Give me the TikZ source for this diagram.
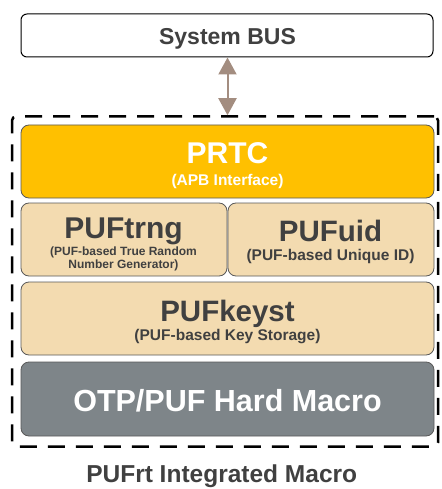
\documentclass[tikz,border=0pt]{standalone}
\usepackage{fontspec}
\setmainfont{Liberation Sans}
\usetikzlibrary{arrows.meta}

\definecolor{prtcfill}{HTML}{FFC000}
\definecolor{puffill}{HTML}{F3DBB0}
\definecolor{otpfill}{HTML}{7E8589}
\definecolor{txtgray}{HTML}{404040}
\definecolor{busarrow}{HTML}{A38D80}

\newcommand{\fs}[1]{\fontsize{#1}{#1}\selectfont}

\begin{document}
\begin{tikzpicture}[x=1pt, y=-1pt,
  block/.style={draw=black!65, line width=0.8pt, rounded corners=8pt,
                inner sep=0pt, minimum height=73pt},
  wideblock/.style={block, minimum width=413pt},
  halfblock/.style={block, minimum width=206pt},
  title/.style={anchor=base, inner sep=0pt, text=txtgray,
                font=\bfseries\fs{30}},
  subtitle/.style={anchor=base, inner sep=0pt, text=txtgray,
                   font=\bfseries\fs{15.5}},
  smalltitle/.style={anchor=base, inner sep=0pt, text=txtgray,
                     font=\bfseries\fs{12}}]

\useasboundingbox (0, 0) rectangle (441, 489);

% draw the bus on top
\node[draw=black, line width=1pt, rounded corners=6pt, minimum width=412pt,
      minimum height=43pt, fill=white] (bus) at (227, 35.5) {};
\node[title, font=\bfseries\fs{23}] (bustext) at (227.5, 45) {System BUS};

% draw the dashed macro frame
\node[draw=black, line width=2.5pt, dash pattern=on 17pt off 11pt,
      rounded corners=4pt, minimum width=426pt, minimum height=330pt,
      inner sep=0pt] (frame) at (225, 281.5) {};

% draw the PRTC block
\node[wideblock, fill=prtcfill] (prtc) at (227.5, 161.5) {};
\node[title, text=white] (prtctitle) at (227.5, 163.3) {PRTC};
\node[subtitle, text=white] (prtcsub) at (227.5, 185) {(APB Interface)};

% draw the PUF blocks
\node[halfblock, fill=puffill] (trng) at (124, 239.5) {};
\node[title] (trngtitle) at (123.5, 238.3) {PUFtrng};
\node[smalltitle] (trngsuba) at (123.5, 255) {(PUF-based True Random};
\node[smalltitle] (trngsubb) at (123.5, 268.3) {Number Generator)};

\node[halfblock, fill=puffill] (uid) at (331, 239.5) {};
\node[title, font=\bfseries\fs{29.5}] (uidtitle) at (330.5, 241.7) {PUFuid};
\node[subtitle] (uidsub) at (330.5, 260) {(PUF-based Unique ID)};

\node[wideblock, fill=puffill] (keyst) at (227.5, 318.5) {};
\node[title, font=\bfseries\fs{29.5}] (keysttitle) at (227.5, 321) {PUFkeyst};
\node[subtitle] (keystsub) at (227.5, 340) {(PUF-based Key Storage)};

% draw the hard macro
\node[wideblock, fill=otpfill, minimum height=74pt] (otp) at (227.5, 399) {};
\node[title, text=white, font=\bfseries\fs{30.5}] (otptitle) at (227.5, 411.7)
      {OTP/PUF Hard Macro};

% draw the bus link
\draw[busarrow, line width=2pt,
      {Triangle[width=18pt, length=17pt]}-{Triangle[width=18pt, length=17pt]}]
      (bus.south -| bustext.base) -- (frame.north -| bustext.base);

% draw the caption
\node[title, font=\bfseries\fs{24.5}] (caption) at (221.7, 482)
      {PUFrt Integrated Macro};

\end{tikzpicture}
\end{document}
